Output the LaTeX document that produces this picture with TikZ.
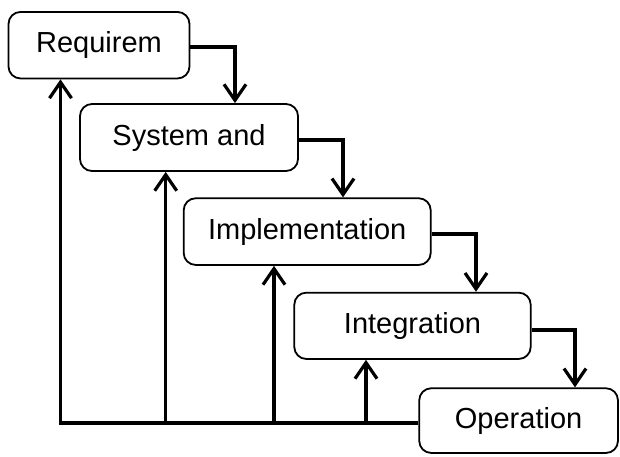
\documentclass[tikz,border=0pt]{standalone}
\usepackage{fontspec}
\setmainfont{Liberation Sans}
\usetikzlibrary{arrows.meta}
\begin{document}
\begin{tikzpicture}[x=1pt,y=-1pt,
  phase/.style={draw=black, line width=1.8pt, rounded corners=12pt, fill=white,
    inner sep=0pt, font=\fontsize{29}{35}\selectfont},
  flow/.style={line width=3.2pt, line join=miter,
    -{Straight Barb[length=16pt,width=22pt,line width=3.2pt]}},
  back/.style={flow}]
\useasboundingbox (0,0) rectangle (620,456);

% phases of the waterfall
\node[phase, minimum width=181pt, minimum height=66.5pt] (req) at (99,45.2) {Requirem};
\node[phase, minimum width=218pt, minimum height=67pt] (sys) at (189,137.5) {System and};
\node[phase, minimum width=247pt, minimum height=66.7pt] (imp) at (307.2,231.6) {Implementation};
\node[phase, minimum width=236.4pt, minimum height=66.3pt] (int) at (412.5,325.8) {Integration};
\node[phase, minimum width=198.7pt, minimum height=64.7pt] (op) at (518.6,420.6) {Operation};

% forward steps
\coordinate (k1) at (235,47);
\coordinate (k2) at (343,140);
\coordinate (k3) at (476,234);
\coordinate (k4) at (575,330);
\draw[flow] (req.east |- k1) -- (k1) -- (k1 |- sys.north);
\draw[flow] (sys.east |- k2) -- (k2) -- (k2 |- imp.north);
\draw[flow] (imp.east |- k3) -- (k3) -- (k3 |- int.north);
\draw[flow] (int.east |- k4) -- (k4) -- (k4 |- op.north);

% feedback paths
\coordinate (b1) at (60.5,423);
\coordinate (b2) at (165.7,423);
\coordinate (b3) at (274,423);
\coordinate (b4) at (366,423);
\draw[back] (op.west |- b1) -- (b1) -- (b1 |- req.south);
\draw[back] (b2) -- (b2 |- sys.south);
\draw[back] (b3) -- (b3 |- imp.south);
\draw[back] (b4) -- (b4 |- int.south);
\end{tikzpicture}
\end{document}
